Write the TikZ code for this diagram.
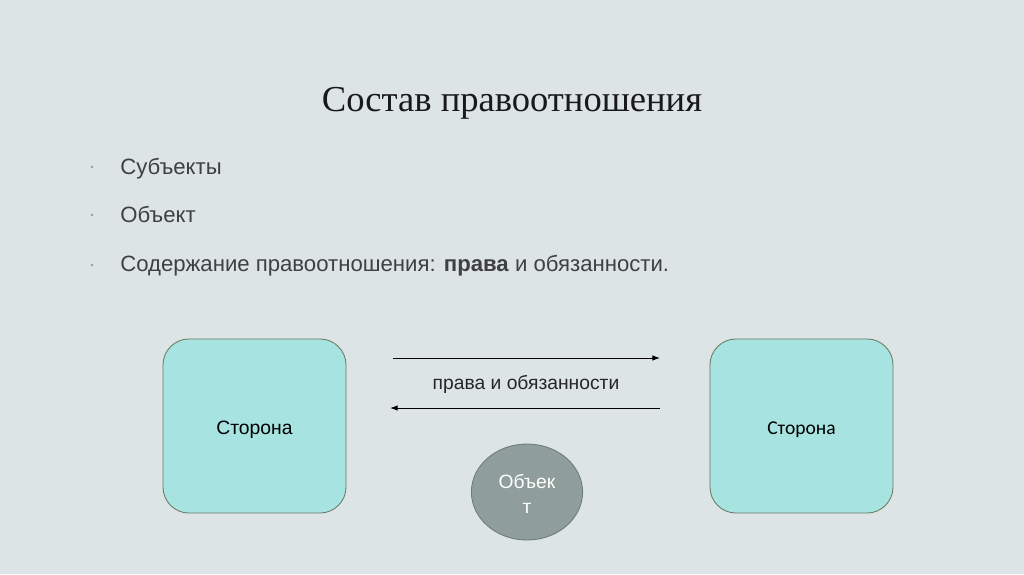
\documentclass[tikz,border=0pt]{standalone}
\usepackage{fontspec}
\setmainfont{Liberation Sans}
\newfontfamily\titlefont{Liberation Serif}
\newfontfamily\boxfont{Carlito}
\usetikzlibrary{arrows.meta,positioning,shapes.geometric}
\definecolor{cbg}{RGB}{220,228,229}
\definecolor{cside}{RGB}{166,227,225}
\definecolor{csideline}{RGB}{104,124,96}
\definecolor{cobj}{RGB}{143,158,155}
\definecolor{cobjline}{RGB}{110,123,120}
\definecolor{ctext}{RGB}{64,64,64}
\definecolor{cdot}{RGB}{150,155,155}
\tikzset{
  side/.style={draw=csideline, fill=cside, line width=0.6pt, rounded corners=0.65cm,
    minimum width=4.575cm, minimum height=4.35cm, inner sep=0pt},
  bullet/.style={anchor=base west, font=\fontsize{15.75}{19}\selectfont, text=ctext, inner sep=0pt},
  bdot/.style={circle, fill=cdot, inner sep=0pt, minimum size=2pt},
  flow/.style={-{Latex[length=5.5pt,width=4pt]}, line width=0.7pt, black}
}
\begin{document}
\begin{tikzpicture}[x=0.025cm, y=-0.025cm]
    \useasboundingbox (0,0) rectangle (1024,574);
    \fill[cbg] (0,0) rectangle (1024,574);
    % title
    \node[font=\titlefont\fontsize{26}{30}\selectfont, text=black!90] (title) at (512,103) {Состав правоотношения};
    % list
    \node[bdot] (d1) at (92,167) {};
    \node[bdot] (d2) at (92,215) {};
    \node[bdot] (d3) at (92,265) {};
    \node[bullet] (l1) at (120,174) {Субъекты};
    \node[bullet] (l2) at (120,222) {Объект};
    \node[bullet] (l3) at (120,271) {Содержание правоотношения: \textbf{права} и обязанности.};
    % scheme
    \node[side] (left) at (254.5,426) {};
    \node[side] (right) at (801.5,426) {};
    \node[font=\fontsize{13.75}{16}\selectfont] (lefttxt) at ([yshift=-0.1cm]left.center) {Сторона};
    \node[font=\boxfont\fontsize{13.9}{16}\selectfont] (righttxt) at ([yshift=-0.1cm]right.center) {Сторона};
    \coordinate (a1) at (393,358);
    \coordinate (a2) at (660,358);
    \coordinate (b1) at (660,408);
    \coordinate (b2) at (390,408);
    \draw[flow] (a1) -- (a2);
    \draw[flow] (b1) -- (b2);
    \node[font=\fontsize{13.7}{16}\selectfont, text=black!85] (rel) at (526,384) {права и обязанности};
    \node[ellipse, draw=cobjline, fill=cobj, line width=0.6pt, minimum width=2.78cm, minimum height=2.4cm] (obj) at (527,492) {};
    \node[text=white, align=center, font=\fontsize{13.7}{17.5}\selectfont] (objtxt) at ([yshift=-0.05cm]obj.center) {Объек\\т};
\end{tikzpicture}
\end{document}
